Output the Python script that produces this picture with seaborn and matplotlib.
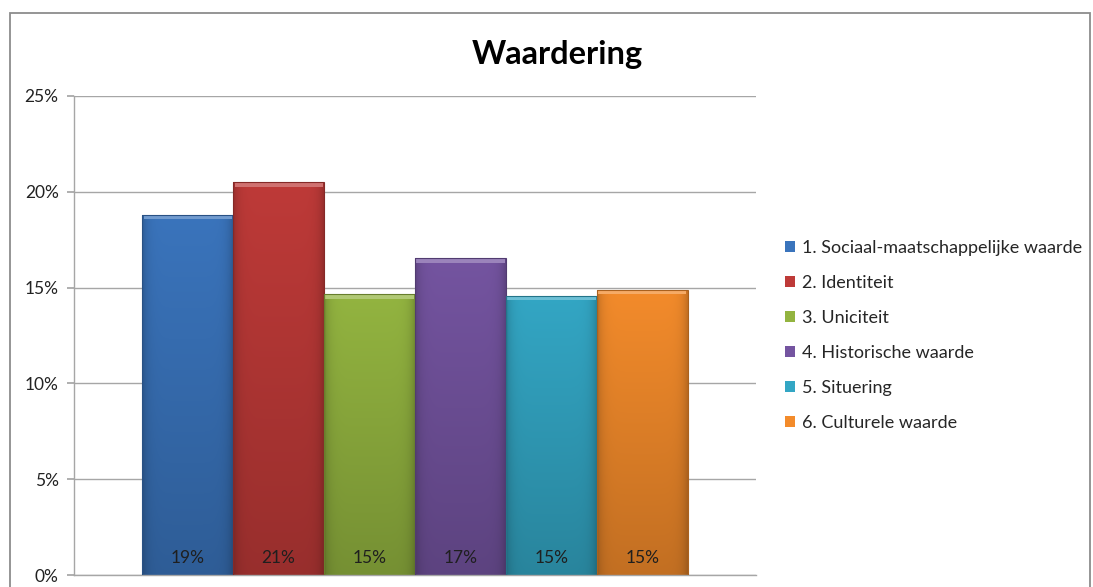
import numpy as np
import pandas as pd
import matplotlib
matplotlib.use("Agg")
import matplotlib.pyplot as plt
import matplotlib.colors as mcolors
from matplotlib.patches import Rectangle
from matplotlib.ticker import PercentFormatter
import seaborn as sns

# Survey scores per criterion (share of total)
criteria = [
    "1. Sociaal-maatschappelijke waarde",
    "2. Identiteit",
    "3. Uniciteit",
    "4. Historische waarde",
    "5. Situering",
    "6. Culturele waarde",
]
shares = [0.1881, 0.2052, 0.1468, 0.1655, 0.1458, 0.1489]
bar_colors = ["#3A74BC", "#BE3A38", "#93B440", "#7454A0", "#33A6C4", "#F38B2B"]
title = "Waardering"
y_ticks = [0.0, 0.05, 0.10, 0.15, 0.20, 0.25]

sns.set_theme(style="white")
plt.rcParams["font.family"] = ["Lato", "DejaVu Sans"]

df = pd.DataFrame({"groep": [""] * len(criteria), "criterium": criteria, "aandeel": shares})

fig = plt.figure(figsize=(10.93, 5.87), dpi=100)
ax = fig.add_axes([0.0677, 0.0204, 0.6240, 0.8161])

sns.barplot(data=df, x="groep", y="aandeel", hue="criterium",
            palette=bar_colors, hue_order=criteria, width=0.8,
            gap=0, ax=ax, legend=True, linewidth=0, saturation=1)

ax.set_ylim(0, 0.25)
ax.set_xlim(-0.5, 0.5)
ax.set_yticks(y_ticks)
ax.yaxis.set_major_formatter(PercentFormatter(1.0, decimals=0))
ax.set_xlabel("")
ax.set_ylabel("")
ax.set_xticks([])
ax.grid(axis="y", color="#A6A6A6", linewidth=1.0)
ax.set_axisbelow(True)
for side in ("top", "right"):
    ax.spines[side].set_visible(False)
for side in ("left", "bottom"):
    ax.spines[side].set_color("#A6A6A6")
    ax.spines[side].set_linewidth(1.0)
ax.tick_params(axis="y", which="major", length=5, color="#A6A6A6",
               labelsize=12.5, labelcolor="#222222", left=True, pad=6)

# Shaded, bevelled look for each bar
patches = [p for p in ax.patches if p.get_height() > 0]
for patch, share in zip(patches, shares):
    base = np.array(mcolors.to_rgb(patch.get_facecolor()))
    x0, w = patch.get_x(), patch.get_width()
    h = patch.get_height()
    ny, nx = 200, 60
    yy = np.linspace(0, 1, ny)[:, None]          # 0 bottom -> 1 top
    xx = np.linspace(0, 1, nx)[None, :]
    shade = 0.80 + 0.20 * yy                     # darker toward the bottom
    edge = 1 - 0.18 * (np.abs(xx - 0.5) * 2) ** 8  # darker side edges
    img = base[None, None, :] * (shade * edge)[:, :, None]
    img = np.clip(img, 0, 1)
    im = ax.imshow(img, extent=(x0, x0 + w, 0, h), origin="lower",
                   aspect="auto", zorder=2.5, interpolation="bilinear")
    im.set_clip_path(patch)
    # bright top bevel
    light = np.clip(base + (1 - base) * 0.28, 0, 1)
    ax.add_patch(Rectangle((x0 + w * 0.015, h - 0.0025), w * 0.97, 0.0025,
                           facecolor=light, edgecolor="none", zorder=2.6))
    ax.add_patch(Rectangle((x0, 0), w, h, facecolor="none",
                           edgecolor=base * 0.7, linewidth=0.8, zorder=2.7))
    ax.text(x0 + w / 2, 0.009, f"{share * 100:.0f}%", ha="center", va="center",
            fontsize=12.5, color="#1F1F1F", zorder=3)
ax.set_xlim(-0.5, 0.5)

# Legend beside the plot
handles, labels = ax.get_legend_handles_labels()
ax.legend(handles, labels, loc="center left", bbox_to_anchor=(0.712, 0.429),
          bbox_transform=fig.transFigure, frameon=False, fontsize=13,
          handlelength=0.55, handleheight=0.55, handletextpad=0.35,
          labelspacing=1.05, borderaxespad=0)

fig.text(0.5095, 0.908, title, ha="center", va="center",
         fontsize=23.5, fontweight="bold", color="#000000")

# Chart frame
fig.patches.append(Rectangle((10 / 1093, -0.02), 1080 / 1093, 1 - 13 / 587 + 0.02,
                             transform=fig.transFigure, facecolor="none",
                             edgecolor="#8C8C8C", linewidth=1.3, zorder=0))

fig.savefig("out.png", dpi=100, facecolor="white")
